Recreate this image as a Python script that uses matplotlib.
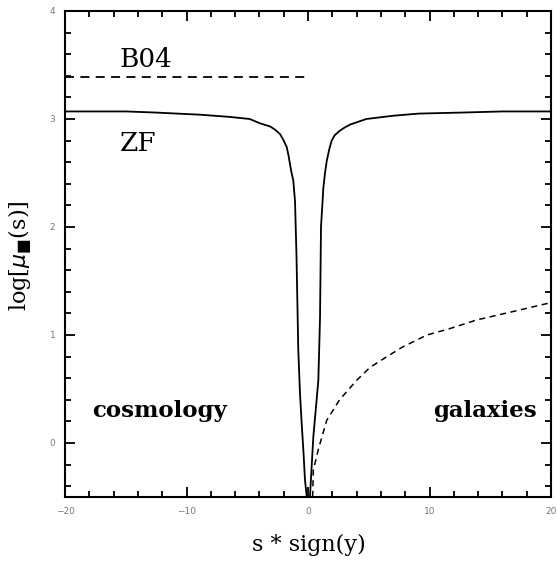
import numpy as np
import matplotlib
matplotlib.use('Agg')
import matplotlib.pyplot as plt
from matplotlib.ticker import MultipleLocator

# ZF profile: solid curve dipping through zero
zf_s = [-20, -15, -12.6, -8.9, -6.5, -4.8, -3.95, -3.1, -2.7, -2.3, -2.0,
        -1.75, -1.6, -1.48, -1.35, -1.21, -1.07, -0.95, -0.8, -0.66, -0.52,
        -0.38, -0.25, -0.1,
        0.16, 0.3, 0.44, 0.71, 0.85, 0.99, 1.07, 1.2, 1.26, 1.4, 1.54, 1.75,
        1.95, 2.2, 2.6, 3.0, 3.5, 4.8, 7.0, 9.1, 12.8, 16.0, 20]
zf_mu = [3.07, 3.07, 3.06, 3.04, 3.02, 3.0, 2.96, 2.93, 2.9, 2.86, 2.8,
         2.74, 2.66, 2.58, 2.5, 2.43, 2.24, 1.75, 0.86, 0.46, 0.18,
         -0.07, -0.34, -0.5,
         -0.5, -0.22, 0.06, 0.4, 0.58, 1.16, 2.0, 2.24, 2.36, 2.5, 2.61, 2.72,
         2.8, 2.85, 2.89, 2.92, 2.95, 3.0, 3.03, 3.05, 3.06, 3.07, 3.07]

# B04 constant level
b04_s = [-20, 0.2]
b04_mu = [3.39, 3.39]

# galaxy profile (dashed)
gal_s = [0.38, 0.44, 0.85, 1.54, 2.6, 4.0, 5.1, 6.5, 7.8, 9.8, 11.7, 13.9,
         16.6, 20]
gal_mu = [-0.5, -0.25, -0.06, 0.21, 0.4, 0.58, 0.7, 0.8, 0.89, 1.0, 1.06,
          1.14, 1.21, 1.3]

serif = 'DejaVu Serif'

fig = plt.figure(figsize=(5.57, 5.61), dpi=100)
ax = fig.add_axes([65 / 557, 1 - 497 / 561, (551 - 65) / 557, (497 - 11) / 561])

ax.plot(zf_s, zf_mu, color='black', lw=1.3)
ax.plot(b04_s, b04_mu, color='black', lw=1.3, ls=(0, (5, 3.5)))
ax.plot(gal_s, gal_mu, color='black', lw=1.1, ls=(0, (4, 3)))

ax.set_xlim(-20, 20)
ax.set_ylim(-0.5, 4)
ax.xaxis.set_major_locator(MultipleLocator(10))
ax.xaxis.set_minor_locator(MultipleLocator(2))
ax.yaxis.set_major_locator(MultipleLocator(1))
ax.yaxis.set_minor_locator(MultipleLocator(0.2))
ax.tick_params(which='both', direction='in', top=True, right=True,
               width=1.3, labelsize=6.5, labelcolor='#777777')
ax.tick_params(which='major', length=7)
ax.tick_params(which='minor', length=4.5)
ax.tick_params(axis='x', pad=7)
ax.tick_params(axis='y', pad=7)
for sp in ax.spines.values():
    sp.set_linewidth(1.5)

ax.text(-15.5, 3.55, 'B04', family=serif, fontsize=19, va='center', ha='left')
ax.text(-15.5, 2.77, 'ZF', family=serif, fontsize=19, va='center', ha='left')
ax.text(-17.8, 0.3, 'cosmology', family=serif, fontsize=16.5, weight='bold',
        va='center', ha='left')
ax.text(18.8, 0.3, 'galaxies', family=serif, fontsize=16.5, weight='bold',
        va='center', ha='right')

fig.text(309 / 557, 1 - 545 / 561, 's * sign(y)', family=serif, fontsize=16,
         ha='center', va='center')
fig.text(20 / 557, 1 - 256 / 561, r'log[$\mu_{\blacksquare}$(s)]', family=serif,
         fontsize=16, rotation=90, ha='center', va='center')

fig.savefig('out.png', dpi=100)
